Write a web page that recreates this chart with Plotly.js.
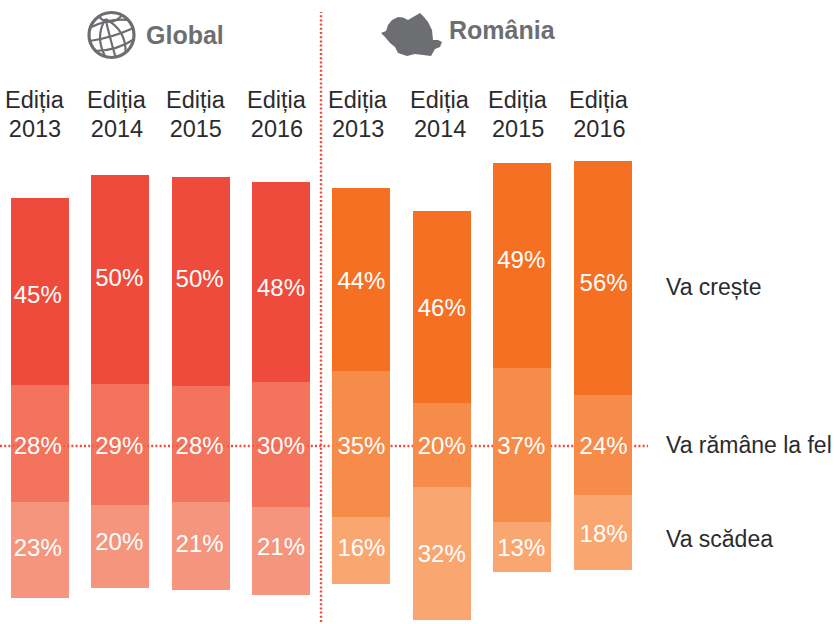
<!DOCTYPE html>
<html>
<head>
<meta charset="utf-8">
<script src="https://cdn.plot.ly/plotly-3.0.1.min.js"></script>
<style>html,body{margin:0;padding:0;background:#fff}#chart{width:834px;height:624px}</style>
</head>
<body>
<div id="chart"></div>
<script>
// ---- data ----
const editionWord = "Ediția";
const editionYears = ["2013","2014","2015","2016","2013","2014","2015","2016"];
const seriesNames = ["Va crește","Va rămâne la fel","Va scădea"];
const vaCreste  = [45,50,50,48,44,46,49,56];
const vaRamane  = [28,29,28,30,35,20,37,24];
const vaScadea  = [23,20,21,21,16,32,13,18];
// drawn height of the lowest segment (the 13% bar is drawn a little shorter than its label)
const vaScadeaDrawn = [23,20,21,21,16,32,12,18];
// bottom of each floating column, in % units relative to the dotted line
const columnFloor = [-36.45,-34.05,-34.53,-35.73,-33.09,-41.73,-30.22,-29.74];

// ---- label nudges (in % units, up is positive) ----
const nudgeTop    = [-0.7, 0.4, 0.6,-1.4,-0.2,-0.2, 1.4,-1.0];
const nudgeBottom = [ 0.5, 1.0, 0.5, 1.0, 0.7,-0.2,-0.2,-0.2];
const nudgeX      = [-0.025,-0.012,-0.012,0,0,0,-0.012,0.012];
const tickShift   = [-0.06,-0.04,-0.06,-0.05,-0.04,-0.02,-0.05,-0.04];

// ---- styles ----
const O1 = "#F67024", O2 = "#F68B4A", O3 = "#F9A671";
const colTop = ["#EF4B3C","#EF4B3C","#EF4B3C","#EF4B3C",O1,O1,O1,O1];
const g = "rgba(243,96,69,0.88)";
const colMid = [g,g,g,g,O2,O2,O2,O2];
const colBot = ["#F5957D","#F5957D","#F5957D","#F5957D",O3,O3,O3,O3];
const dotColor = "#EF4B3C", greyHead = "#6D6E71", inkText = "#2b2b2d";
const W = 834, H = 624, TOP = 143, PXPER = 4.17, LINE_Y = 446;
const FONT = "Liberation Sans, Arial, sans-serif";
const TEXTUP = 0.55; // text sits slightly lower in the reference

const idx = editionYears.map((_, i) => i);
const pct = v => v + "%";
const add = (a, b) => a.map((v, i) => v + b[i]);
const baseBot = columnFloor;
const baseMid = add(baseBot, vaScadeaDrawn);
const baseTop = add(baseMid, vaRamane);

function bars(vals, base, colors){
  return {type:"bar", x:idx, y:vals, base:base, width:58/80.4,
          marker:{color:colors, line:{width:0}}, hoverinfo:"none", showlegend:false};
}
function labels(vals, ys){
  return {type:"scatter", mode:"text", x:idx.map(i=>i+nudgeX[i]), y:ys.map(y=>y-TEXTUP), text:vals.map(pct),
          textposition:"middle center", cliponaxis:false,
          textfont:{family:FONT, size:24, color:"#ffffff"},
          hoverinfo:"none", showlegend:false};
}
const traces = [
  bars(vaScadeaDrawn, baseBot, colBot),
  bars(vaRamane, baseMid, colMid),
  bars(vaCreste, baseTop, colTop),
  labels(vaCreste, vaCreste.map((v,i)=>baseTop[i]+v/2+nudgeTop[i])),
  labels(vaRamane, vaRamane.map(()=>0)),
  labels(vaScadea, vaScadeaDrawn.map((v,i)=>baseBot[i]+v/2+nudgeBottom[i]))
];

const globe = `<svg xmlns="http://www.w3.org/2000/svg" viewBox="0 0 50 50"><g fill="none" stroke="${greyHead}" stroke-width="2.2"><circle cx="25" cy="25" r="22.5" stroke-width="3.2"/><path d="M19 9 Q8 27 19 47"/><path d="M19 9 Q24 30 29 47"/><path d="M19 9 Q40 20 39 43"/><path d="M5 17 Q24 8 41 10"/><path d="M3 31 Q25 28 47 18"/><path d="M8 41 Q30 41 48 29"/><path d="M12 6 Q22 18 35 6"/></g></svg>`;
const romania = `<svg xmlns="http://www.w3.org/2000/svg" viewBox="0 0 70 52"><path fill="${greyHead}" d="M6 25 L11 23 L13 17 L17 12 L23 9 L28 9.500 L33 12 L39 8.500 L45 5 L49 9 L53 14 L57 22 L58 32 L63 32 L67 34 L65 39 L60 41 L56 48 L48 47 L40 46 L32 48 L23 45 L20 39 L15 35 L10 29 Z"/></svg>`;
const uri = s => "data:image/svg+xml;utf8," + encodeURIComponent(s);
const px = x => x / W;
const py = y => (H - y) / (H - TOP);

const layout = {
  width:W, height:H, margin:{l:0,r:0,t:TOP,b:0,pad:0},
  paper_bgcolor:"#fff", plot_bgcolor:"#fff",
  barmode:"overlay", bargap:0, showlegend:false,
  font:{family:FONT},
  xaxis:{range:[-39.8/80.4,(W-39.8)/80.4], side:"top", showgrid:false, zeroline:false, showline:false, ticks:"",
         tickmode:"array", tickvals:idx.map(i=>i+tickShift[i]), ticktext:editionYears, tickangle:0,
         tickfont:{family:FONT, size:23.5, color:inkText}, fixedrange:true},
  yaxis:{range:[(LINE_Y-H)/PXPER,(LINE_Y-TOP)/PXPER], visible:false, fixedrange:true},
  shapes:[
    {type:"line", layer:"below", xref:"paper", yref:"y", x0:0, x1:px(648), y0:0, y1:0,
     line:{color:dotColor, width:2.4, dash:"2px,2.2px"}},
    {type:"line", layer:"below", xref:"paper", yref:"paper", x0:px(321), x1:px(321), y0:py(622), y1:py(12),
     line:{color:dotColor, width:2.4, dash:"2px,2.2px"}}
  ],
  images:[
    {source:uri(globe), xref:"paper", yref:"paper", x:px(86.500), y:py(10), sizex:px(50), sizey:50/(H-TOP), xanchor:"left", yanchor:"top", sizing:"stretch", layer:"above"},
    {source:uri(romania), xref:"paper", yref:"paper", x:px(375), y:py(8), sizex:px(70), sizey:52/(H-TOP), xanchor:"left", yanchor:"top", sizing:"stretch", layer:"above"}
  ],
  annotations:[
    {text:"<b>Global</b>", xref:"paper", yref:"paper", x:px(144), y:py(35), xanchor:"left", yanchor:"middle", showarrow:false,
     font:{family:FONT, size:25, color:greyHead}},
    {text:"<b>România</b>", xref:"paper", yref:"paper", x:px(447), y:py(30), xanchor:"left", yanchor:"middle", showarrow:false,
     font:{family:FONT, size:25, color:greyHead}},
    ...idx.map(i=>({text:editionWord, xref:"x", yref:"paper", x:i+tickShift[i], y:py(100), xanchor:"center", yanchor:"middle", showarrow:false,
     font:{family:FONT, size:23.5, color:inkText}})),
    ...seriesNames.map((name,i)=>({text:name, xref:"paper", yref:"paper", x:px(664), y:py([287,445,539][i]), xanchor:"left", yanchor:"middle", showarrow:false,
     font:{family:FONT, size:23, color:inkText}}))
  ]
};
Plotly.newPlot("chart", traces, layout, {displayModeBar:false, staticPlot:true});
</script>
</body>
</html>
